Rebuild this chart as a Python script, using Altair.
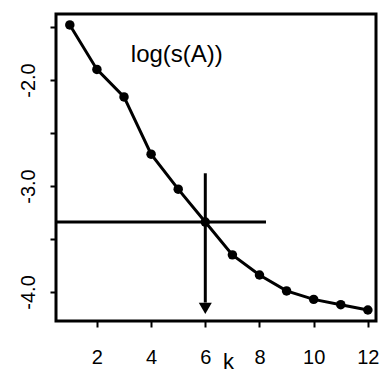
import altair as alt
import pandas as pd

# Curve: log(s(A)) against the number of clusters k
k_values = list(range(1, 13))
log_s = [-1.48, -1.90, -2.16, -2.70, -3.03, -3.34, -3.65, -3.84, -3.99, -4.07, -4.12, -4.17]

# Axis ticks
x_ticks = [2, 4, 6, 8, 10, 12]
y_ticks = [-4.0, -3.5, -3.0, -2.5, -2.0, -1.5]

# Selection guide: horizontal cut level and the chosen k with an arrow
chosen_k = 6
cut_level = -3.34
hline_start = 0.49
hline_end = 8.24
vline_top = -2.88
vline_bottom = -4.10
arrow_y = -4.155

# Annotation text
label_text = ["log(s(A))"]
label_x = [4.95]
label_y = [-1.764]

x_dom = [0.49, 12.3]
y_dom = [-4.274, -1.377]
FONT = "Liberation Sans"

curve = pd.DataFrame({"k": k_values, "v": log_s})

xs = alt.Scale(domain=x_dom, nice=False, zero=False)
ys = alt.Scale(domain=y_dom, nice=False, zero=False)

x_axis = alt.Axis(
    values=x_ticks, domain=False, grid=False, tickColor="black", tickWidth=2,
    tickSize=6, labelFontSize=20, labelColor="black", labelFont=FONT,
    labelPadding=20, labelFlush=False, title="k", titleFont=FONT, titleFontSize=22,
    titleFontWeight="normal", titleColor="black", titleX=172, titleY=40,
    titleBaseline="middle", titleAlign="center",
)
y_axis = alt.Axis(
    values=y_ticks, domain=False, grid=False, tickColor="black", tickWidth=2,
    tickSize=6, labelFontSize=20, labelColor="black", labelFont=FONT,
    labelAngle=270, labelAlign="center", labelBaseline="bottom", labelPadding=12,
    labelFlush=False, labelOverlap=False,
    labelExpr="datum.value % 1 == 0 ? '-' + format(abs(datum.value), '.1f') : ''",
    title=None,
)

line = alt.Chart(curve).mark_line(color="black", strokeWidth=3).encode(
    x=alt.X("k:Q", scale=xs, axis=x_axis),
    y=alt.Y("v:Q", scale=ys, axis=y_axis),
)
pts = alt.Chart(curve).mark_point(filled=True, color="black", size=90, opacity=1).encode(
    x=alt.X("k:Q", scale=xs), y=alt.Y("v:Q", scale=ys)
)

hline = alt.Chart(pd.DataFrame({"x": [hline_start], "x2": [hline_end], "y": [cut_level]})).mark_rule(
    color="black", strokeWidth=3
).encode(x=alt.X("x:Q", scale=xs), x2="x2:Q", y=alt.Y("y:Q", scale=ys))

vline = alt.Chart(pd.DataFrame({"x": [chosen_k], "y": [vline_top], "y2": [vline_bottom]})).mark_rule(
    color="black", strokeWidth=3
).encode(x=alt.X("x:Q", scale=xs), y=alt.Y("y:Q", scale=ys), y2="y2:Q")

arrow = alt.Chart(pd.DataFrame({"x": [chosen_k], "y": [arrow_y]})).mark_point(
    shape="triangle-down", filled=True, color="black", size=170, opacity=1
).encode(x=alt.X("x:Q", scale=xs), y=alt.Y("y:Q", scale=ys))

text = alt.Chart(pd.DataFrame({"x": label_x, "y": label_y, "t": label_text})).mark_text(
    font=FONT, fontSize=24, color="black", align="center", baseline="middle"
).encode(x=alt.X("x:Q", scale=xs), y=alt.Y("y:Q", scale=ys), text="t:N")

chart = (
    alt.layer(line, pts, hline, vline, arrow, text)
    .properties(
        width=320, height=307,
        padding={"left": 56, "top": 14, "right": 4, "bottom": 52},
        autosize=alt.AutoSizeParams(type="none"),
        background="white",
    )
    .configure_view(stroke="black", strokeWidth=3)
)

chart.save("out.html", embed_options={"renderer": "svg", "actions": False})
